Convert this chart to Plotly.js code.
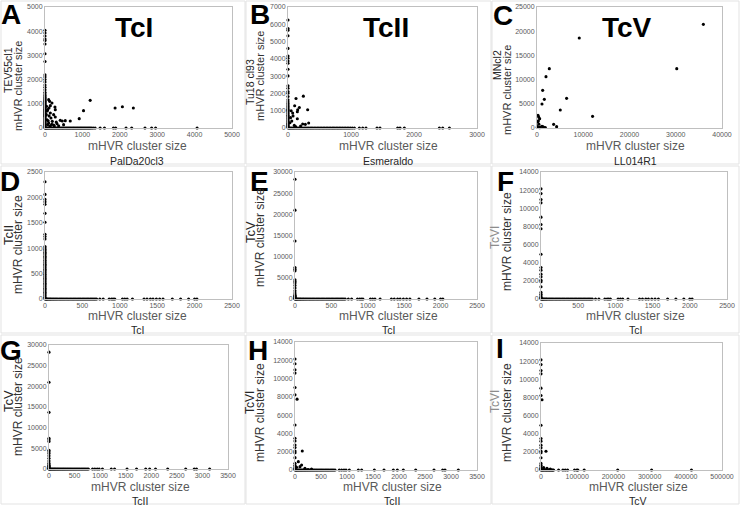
<!DOCTYPE html>
<html><head><meta charset="utf-8">
<script src="https://cdn.plot.ly/plotly-3.0.1.min.js"></script>
<style>html,body{margin:0;padding:0;background:#fff}#chart{width:740px;height:508px}</style>
</head><body><div id="chart"></div>
<script>
// ---------- DATA ----------
// Panel A: PalDa20cl3 (x) vs TEV55cl1 (y)
const A_onX = [8, 25, 48, 70, 95, 120, 148, 175, 200, 228, 255, 283, 310, 340, 368, 395, 425, 455, 482, 510, 540, 570, 598, 628, 655, 685, 715, 745, 772, 800, 830, 860, 888, 918, 948, 975, 1005, 1035, 1065, 1095, 1125, 1155, 1185, 1215, 1250, 1290, 1340, 1474, 1590, 1830, 1890, 2167, 2318, 2673, 2851, 2957, 4067];
const A_onY = [4036, 3926, 3800, 3680, 3611, 3472, 3069, 2750, 2194, 2110, 2000, 1900, 1778, 1680, 1580, 1480, 1400, 1340, 1292, 1250, 1210, 1170, 1130, 1090, 1050, 1010, 970, 930, 890, 850, 810, 770, 730, 690, 650, 610, 570, 530, 490, 450, 410, 370, 330, 290, 250, 210, 170, 130, 90, 50, 15];
const A_scX = [98, 124, 142, 107, 266, 275, 142, 231, 160, 275, 53, 195, 98, 320, 408, 462, 542, 675, 915, 1030, 1208, 1874, 2069, 2362, 71, 142, 231, 364, 497, 36, 71, 186, 40, 60, 110, 85, 180, 250, 300, 130];
const A_scY = [1171, 1102, 923, 826, 868, 758, 620, 551, 413, 455, 344, 275, 207, 179, 317, 289, 303, 289, 386, 716, 1143, 826, 881, 826, 138, 96, 124, 96, 138, 551, 758, 1033, 900, 700, 500, 300, 150, 80, 250, 40];
// Panel B: Esmeraldo (x) vs Tu18 cl93 (y)
const B_onX = [5, 22, 40, 60, 80, 100, 122, 145, 168, 190, 212, 235, 258, 280, 303, 326, 350, 372, 395, 418, 442, 465, 488, 510, 535, 558, 580, 605, 628, 652, 675, 700, 722, 745, 770, 793, 817, 840, 865, 890, 915, 940, 965, 990, 1020, 1054, 1133, 1186, 1238, 1413, 1460, 1741, 1778, 1847, 2403, 2456, 2562];
const B_onY = [6247, 5758, 5662, 5336, 4606, 4165, 4031, 3877, 3743, 3397, 3013, 2438, 2303, 2111, 2015, 1823, 1631, 1520, 1420, 1330, 1250, 1170, 1090, 1020, 950, 880, 810, 740, 670, 600, 530, 460, 400, 340, 280, 220, 160, 100, 45];
const B_scX = [244, 127, 106, 180, 154, 312, 74, 148, 148, 233, 275, 328, 60, 40, 100, 120, 30, 50, 200, 80];
const B_scY = [1843, 1708, 1286, 1190, 1056, 1056, 864, 940, 537, 230, 211, 288, 400, 600, 150, 80, 300, 1000, 120, 700];
// Panel C: LL014R1 (x) vs MNcl2 (y)
const C_x = [35971, 9137, 30216, 2662, 1942, 1223, 1583, 6403, 1079, 5036, 12014, 3597, 4245, 216, 360, 575, 300, 150, 400, 1079, 100, 50, 700, 1439, 1300, 1799, 600];
const C_y = [21419, 18595, 12259, 12259, 10606, 7782, 5923, 6130, 4959, 3719, 2410, 758, 275, 2617, 2273, 1928, 1500, 1240, 800, 344, 300, 100, 200, 150, 250, 100, 50];
// Shared: cluster sizes lying on an axis (partner size 0)
const TcI_onAxis = [3, 12, 21, 30, 42, 55, 68, 80, 95, 110, 124, 140, 155, 171, 188, 204, 220, 237, 253, 270, 288, 305, 322, 340, 358, 375, 392, 410, 428, 445, 463, 480, 498, 515, 533, 550, 568, 585, 603, 620, 638, 655, 672, 690, 733, 778, 858, 889, 911, 933, 1036, 1067, 1098, 1169, 1324, 1364, 1409, 1444, 1489, 1533, 1578, 1702, 1813, 1920, 2000, 2031];
const TcII_onAxis = [4, 18, 32, 48, 65, 82, 100, 118, 136, 155, 174, 193, 212, 232, 252, 272, 292, 313, 334, 355, 376, 398, 420, 442, 465, 488, 510, 533, 556, 580, 603, 627, 650, 674, 698, 722, 746, 770, 852, 897, 942, 981, 1045, 1218, 1282, 1526, 1712, 1891, 1968, 2083, 2321, 2673, 2840, 2885, 3141];
const TcV_onAxis = [400, 2300, 4800, 7100, 9900, 12600, 15200, 17400, 20300, 22800, 25100, 27900, 30400, 32600, 34860, 48600, 60550, 67000, 73400, 92660, 99080, 101800, 119300, 211900, 305500, 415600];
const TcII_onY_D = [2307, 2059, 1961, 1915, 1863, 1686, 1510, 1275, 1229, 1183, 1033, 1005, 975, 948, 920, 895, 870, 842, 815, 790, 762, 735, 710, 685, 660, 635, 610, 585, 560, 535, 510, 485, 460, 435, 410, 385, 360, 335, 310, 285, 260, 235, 210, 185, 160, 135, 110, 85, 60, 35, 12];
const TcV_onY = [28270, 20990, 13700, 7440, 7050, 6650, 4540, 4150, 3760, 3210, 2580, 1960, 1410, 1020, 820, 640, 470, 320, 180, 60];
const TcVI_onY = [12140, 11620, 10960, 10600, 9025, 8220, 4930, 3470, 3180, 2740, 2450, 2080, 1900, 1350, 730, 520, 340, 190, 70];
// Off-axis points
const F_scX = [0];
const F_scY = [7750];
const H_scX = [40, 140, 64, 96, 191, 318, 127, 30, 250];
const H_scY = [7750, 2080, 914, 365, 183, 110, 548, 300, 60];
const I_scX = [2750, 13760, 7340, 16500, 25700];
const I_scY = [7750, 2063, 258, 184, 110];

// Axis labels
const xNames = ['PalDa20cl3', 'Esmeraldo', 'LL014R1', 'TcI', 'TcI', 'TcI', 'TcII', 'TcII', 'TcV'];
const yNames = ['TEV55cl1', 'Tu18 cl93', 'MNcl2', 'TcII', 'TcV', 'TcVI', 'TcV', 'TcVI', 'TcVI'];
const letters = ['A', 'B', 'C', 'D', 'E', 'F', 'G', 'H', 'I'];
const groupTitles = ['TcI', 'TcII', 'TcV'];
const sizeLabel = 'mHVR cluster size';

// ---------- LAYOUT ----------
const W = 740, H = 508;
const zeros = a => a.map(() => 0);
const panels = [
  {box:[45,232,7,128],  xr:[0,5000],   xd:1000,   yr:[0,5000],  yd:1000, sets:[[A_onX, zeros(A_onX)], [zeros(A_onY), A_onY], [A_scX, A_scY]]},
  {box:[288,477,7,128], xr:[0,3000],   xd:1000,   yr:[0,7000],  yd:1000, sets:[[B_onX, zeros(B_onX)], [zeros(B_onY), B_onY], [B_scX, B_scY]]},
  {box:[537,722,7,128], xr:[0,40000],  xd:10000,  yr:[0,25000], yd:5000, sets:[[C_x, C_y]]},
  {box:[45,232,172,299],xr:[0,2500],   xd:500,    yr:[0,2500],  yd:500,  sets:[[TcI_onAxis, zeros(TcI_onAxis)], [zeros(TcII_onY_D), TcII_onY_D]]},
  {box:[295,477,172,299],xr:[0,2500],  xd:500,    yr:[0,30000], yd:5000, sets:[[TcI_onAxis, zeros(TcI_onAxis)], [zeros(TcV_onY), TcV_onY]]},
  {box:[541,727,172,299],xr:[0,2500],  xd:500,    yr:[0,14000], yd:2000, sets:[[TcI_onAxis, zeros(TcI_onAxis)], [zeros(TcVI_onY), TcVI_onY], [F_scX, F_scY]]},
  {box:[49,228,345,469], xr:[0,3500],  xd:500,    yr:[0,30000], yd:5000, sets:[[TcII_onAxis, zeros(TcII_onAxis)], [zeros(TcV_onY), TcV_onY]]},
  {box:[295,477,342,470],xr:[0,3500],  xd:500,    yr:[0,14000], yd:2000, sets:[[TcII_onAxis, zeros(TcII_onAxis)], [zeros(TcVI_onY), TcVI_onY], [H_scX, H_scY]]},
  {box:[541,722,343,470],xr:[0,500000],xd:100000, yr:[0,14000], yd:2000, sets:[[TcV_onAxis, zeros(TcV_onAxis)], [zeros(TcVI_onY), TcVI_onY], [I_scX, I_scY]]}
];

const traces = [];
const layout = {
  width: W, height: H, margin:{l:0,r:0,t:0,b:0}, showlegend:false,
  paper_bgcolor:'#ffffff', plot_bgcolor:'#ffffff',
  font:{family:'Liberation Sans, Arial, sans-serif'},
  annotations: [], shapes: []
};
const tickFont = {family:'Liberation Sans, Arial, sans-serif', size:7, color:'#595959'};

panels.forEach((p, i) => {
  const s = i === 0 ? '' : String(i + 1);
  const [l, r, t, b] = p.box;
  const common = {showgrid:false, zeroline:false, showline:true, mirror:true, linecolor:'#bfbfbf', linewidth:1,
    ticks:'', tickfont:tickFont, tickformat:'d', fixedrange:true, tick0:0};
  layout['xaxis' + s] = Object.assign({}, common, {domain:[l/W, r/W], range:p.xr, dtick:p.xd, anchor:'y' + s});
  layout['yaxis' + s] = Object.assign({}, common, {domain:[1 - b/H, 1 - t/H], range:p.yr, dtick:p.yd, anchor:'x' + s});
  p.sets.forEach(([xs, ys]) => {
    traces.push({type:'scatter', mode:'markers', x:xs, y:ys, xaxis:'x' + s, yaxis:'y' + s,
      cliponaxis:false, hoverinfo:'skip',
      marker:{size:3.1, color:'#000000'}});
  });
});

function ann(text, x, y, size, color, opts) {
  layout.annotations.push(Object.assign({text:text, x:x/W, y:1 - y/H, xref:'paper', yref:'paper',
    showarrow:false, xanchor:'center', yanchor:'middle', borderpad:0,
    font:{family:'Liberation Sans, Arial, sans-serif', size:size, color:color}}, opts || {}));
}

// panel letters
const letterPos = [[11,15],[260,15],[503,16],[10,181],[259,181],[505,181],[11,350],[258,350],[500,348]];
letters.forEach((L, i) => ann(L, letterPos[i][0], letterPos[i][1], 28, '#000000',
  {font:{family:'Liberation Sans, Arial, sans-serif', size:28, color:'#000000', weight:900}}));

// group titles
const titlePos = [[134,27],[386,27],[627,27]];
groupTitles.forEach((T, i) => ann(T, titlePos[i][0], titlePos[i][1], 28, '#000000',
  {font:{family:'Liberation Sans Narrow, Liberation Sans, Arial, sans-serif', size:28, color:'#000000', weight:700}}));

// x-axis titles
const xTitlePos = [[137,146,161],[388,146,161],[635,146,161],[137,316,330],[388,316,330],[635,316,330],[140,487,501],[392,487,501],[638,487,501]];
xNames.forEach((n, i) => {
  const [cx, y1, y2] = xTitlePos[i];
  ann(sizeLabel, cx, y1, 12, '#595959');
  ann(n, cx, y2, 10.5, '#262626');
});

// y-axis titles (rotated)
const yTitlePos = [[8,70,18,86],[250,82,260,76],[497,65,507,90],[8,235,18,245],[250,232,260,238],[495,238,507,242],[8,401,18,407],[250,403,260,413],[495,402,507,413]];
const yNameColor = ['#262626','#262626','#262626','#262626','#262626','#8c8c8c','#262626','#262626','#8c8c8c'];
const yNameSize = [10.5, 10.5, 10.5, 13, 13, 12, 13, 12, 12];
yNames.forEach((n, i) => {
  const [x1, y1, x2, y2] = yTitlePos[i];
  ann(n, x1, y1, yNameSize[i], yNameColor[i], {textangle:-90});
  ann(sizeLabel, x2, y2, i < 3 ? 11 : 12, '#333333', {textangle:-90});
});

// chart-area frames
const cols = [[1,245],[246,491],[492,739]];
const rows = [[1,164],[166,333],[335,504]];
rows.forEach(([t, b]) => cols.forEach(([l, r]) => {
  layout.shapes.push({type:'rect', xref:'paper', yref:'paper', x0:l/W, x1:r/W, y0:1 - b/H, y1:1 - t/H,
    line:{color:'#e3e3e3', width:1}, fillcolor:'rgba(0,0,0,0)', layer:'below'});
}));

Plotly.newPlot('chart', traces, layout, {staticPlot:true, displayModeBar:false});
</script></body></html>
